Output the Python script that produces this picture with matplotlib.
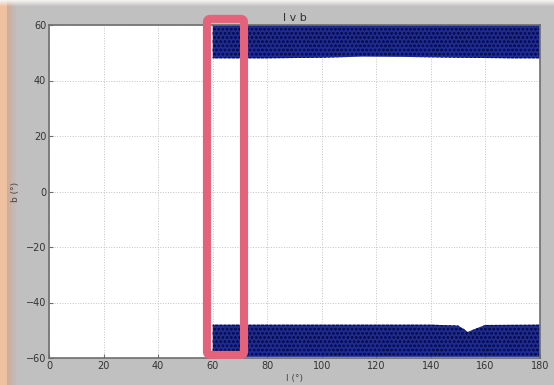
import matplotlib
matplotlib.use("Agg")
import matplotlib.pyplot as plt
import numpy as np
from matplotlib.patches import FancyBboxPatch

# band outlines (galactic longitude vs latitude coverage)
l_north = [60, 80, 100, 115, 130, 150, 170, 180]
b_north_lo = [48.0, 48.0, 48.2, 48.6, 48.5, 48.2, 48.0, 48.0]
b_north_hi = [60, 60, 60, 60, 60, 60, 60, 60]

l_south = [60, 100, 140, 150, 152, 153.5, 158, 160, 180]
b_south_lo = [-59.6, -59.6, -59.6, -59.6, -59.6, -59.6, -59.6, -59.6, -59.6]
b_south_hi = [-48.0, -48.0, -48.0, -48.3, -49.5, -50.6, -48.8, -48.1, -48.0]

xticks = [0, 20, 40, 60, 80, 100, 120, 140, 160, 180]
yticks = [-60, -40, -20, 0, 20, 40, 60]

plt.rcParams['hatch.linewidth'] = 0.6
fig = plt.figure(figsize=(5.54, 3.85), dpi=100)
fig.patch.set_facecolor('#c0c0c0')

# window backdrop: orange strip on the left, light strip along the top
bg = np.ones((385, 554, 3)) * np.array([0.753, 0.753, 0.753])
orange = np.array([0.94, 0.76, 0.63])
brown = np.array([0.80, 0.68, 0.62])
bg[:, :7] = orange
for i in range(7, 17):
    t = (i - 7) / 10
    bg[:, i] = brown * (1 - t) + np.array([0.753, 0.753, 0.753]) * t
for j in range(6):
    t = j / 6
    bg[j] = bg[j] * t + np.array([0.96, 0.95, 0.94]) * (1 - t)
bax = fig.add_axes([0, 0, 1, 1], zorder=-5)
bax.imshow(bg, aspect='auto', interpolation='nearest')
bax.axis('off')

ax = fig.add_axes([49 / 554, 1 - 358 / 385, 491 / 554, 333 / 385])
ax.set_facecolor('white')

for l, lo, hi in [(l_north, b_north_lo, b_north_hi), (l_south, b_south_lo, b_south_hi)]:
    ax.fill_between(l, lo, hi, facecolor='#1d2a98', edgecolor='#0a1048',
                    hatch='oooo', linewidth=0, zorder=2)

ax.set_xlim(0, 180)
ax.set_ylim(-60, 60)
ax.set_xticks(xticks)
ax.set_yticks(yticks)
ax.grid(True, linestyle=':', color='#c2c2c2', linewidth=0.7)
ax.set_axisbelow(True)
for s in ax.spines.values():
    s.set_color('#6e6e6e')
    s.set_linewidth(1.2)
ax.tick_params(direction='in', length=3, color='#6e6e6e', labelsize=7,
               labelcolor='#333333', pad=2)
ax.set_title('l v b', fontsize=8, color='#333333', pad=3)
ax.set_xlabel('l (°)', fontsize=6.5, color='#444444', labelpad=2)
ax.set_ylabel('b (°)', fontsize=6.5, color='#444444', labelpad=4)

# highlight box around the 58-72 deg strip
box = FancyBboxPatch((57.9, -58.9), 71.5 - 57.9, 62.2 + 58.9,
                     boxstyle='round,pad=0,rounding_size=1.2',
                     transform=ax.transData, clip_on=False,
                     facecolor='none', edgecolor='#e5637a', linewidth=5.8,
                     zorder=10)
ax.add_patch(box)

fig.savefig('out.png', dpi=100, facecolor=fig.get_facecolor())
